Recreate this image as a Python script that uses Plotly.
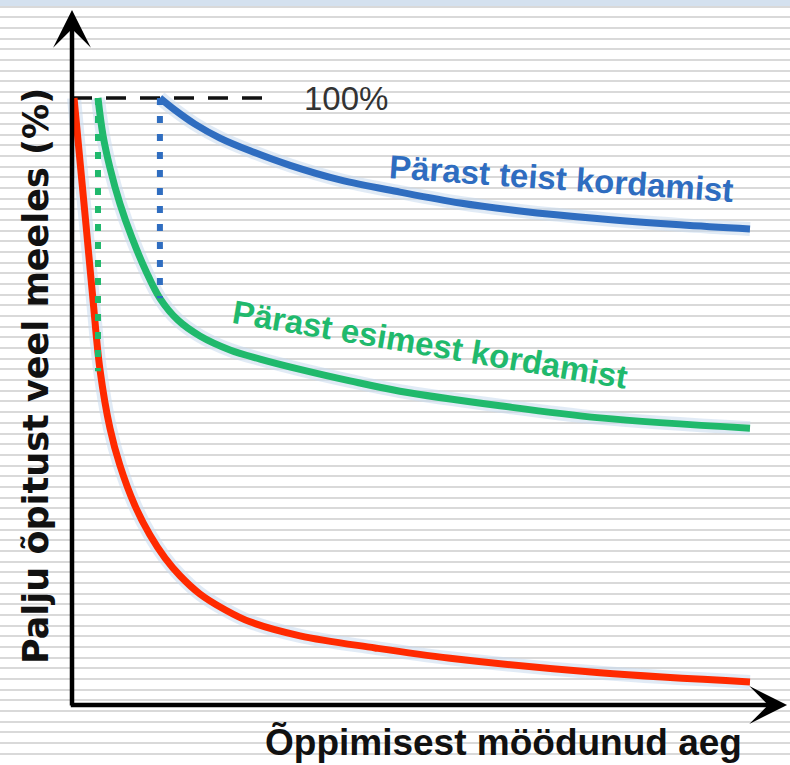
import plotly.graph_objects as go

# ---- data (time units, retention %) ----
red_t = [0.09, 0.62, 0.93, 1.24, 1.68, 2.12, 2.79, 3.45, 4.12, 4.78, 5.66, 6.77, 7.88, 10.09, 13.41, 16.73, 23.36, 30.0]
red_p = [100.0, 79.1, 66.7, 55.2, 45.6, 39.5, 32.8, 28.0, 24.2, 21.3, 18.3, 15.7, 13.7, 11.4, 9.4, 7.7, 5.3, 3.8]

green_t = [1.15, 1.37, 1.68, 2.12, 2.65, 3.27, 3.89, 4.69, 5.66, 6.99, 8.32, 10.09, 12.30, 14.51, 18.94, 23.36, 30.0]
green_p = [100.0, 93.9, 88.5, 82.6, 77.0, 71.5, 67.0, 63.4, 60.8, 58.5, 57.0, 55.3, 53.4, 51.7, 49.3, 47.3, 45.6]

blue_t = [3.89, 4.56, 5.44, 6.55, 7.88, 9.65, 11.86, 14.51, 17.17, 19.82, 23.36, 26.90, 30.0]
blue_p = [100.0, 98.0, 95.7, 93.4, 91.3, 88.9, 86.5, 84.5, 82.7, 81.4, 80.1, 79.1, 78.4]

green_drop_t = [1.15, 1.15]
green_drop_p = [100.0, 55.0]
blue_drop_t = [3.89, 3.89]
blue_drop_p = [100.0, 67.0]

ref_t = [0.0, 8.98]
ref_p = [100.0, 100.0]

label_100 = "100%"
label_blue = "Pärast teist kordamist"
label_green = "Pärast esimest kordamist"
x_title = "Õppimisest möödunud aeg"
y_title = "Palju õpitust veel meeles (%)"

RED = "#ff2a00"
GREEN = "#20b96c"
BLUE = "#2f6dc0"
HALO = "rgba(200,218,238,0.55)"
FONT = "Liberation Sans, Arial, sans-serif"

fig = go.Figure()

# stripes via hidden overlay axis
fig.add_trace(go.Scatter(x=[None], y=[None], yaxis="y2", showlegend=False, hoverinfo="skip"))

# soft halos under curves
for tt, pp in [(red_t, red_p), (green_t, green_p), (blue_t, blue_p)]:
    fig.add_trace(go.Scatter(x=tt, y=pp, mode="lines",
                             line=dict(color=HALO, width=14, shape="spline", smoothing=1.0),
                             showlegend=False, hoverinfo="skip"))

fig.add_trace(go.Scatter(x=ref_t, y=ref_p, mode="lines",
                         line=dict(color="#111111", width=3.5, dash="20px,14px"), showlegend=False))
fig.add_trace(go.Scatter(x=red_t, y=red_p, mode="lines",
                         line=dict(color=RED, width=7, shape="spline", smoothing=1.0), showlegend=False))
fig.add_trace(go.Scatter(x=green_t, y=green_p, mode="lines",
                         line=dict(color=GREEN, width=7, shape="spline", smoothing=1.0), showlegend=False))
fig.add_trace(go.Scatter(x=green_drop_t, y=green_drop_p, mode="lines",
                         line=dict(color=GREEN, width=6, dash="7px,11px"), showlegend=False))
fig.add_trace(go.Scatter(x=blue_t, y=blue_p, mode="lines",
                         line=dict(color=BLUE, width=7, shape="spline", smoothing=1.0), showlegend=False))
fig.add_trace(go.Scatter(x=blue_drop_t, y=blue_drop_p, mode="lines",
                         line=dict(color=BLUE, width=6, dash="7px,11px"), showlegend=False))

W, H = 790, 765
annotations = [
    # axes arrows
    dict(x=0, y=114.5, ax=0, ay=-0.35, xref="x", yref="y", axref="x", ayref="y",
         showarrow=True, arrowhead=3, arrowsize=1.4, arrowwidth=4.5, arrowcolor="#000000", text=""),
    dict(x=31.64, y=0, ax=-0.12, ay=0, xref="x", yref="y", axref="x", ayref="y",
         showarrow=True, arrowhead=3, arrowsize=1.4, arrowwidth=4.5, arrowcolor="#000000", text=""),
    dict(x=346 / W, y=1 - 98.5 / H, xref="paper", yref="paper", text=label_100, showarrow=False,
         font=dict(family=FONT, size=33, color="#333333"), xanchor="center", yanchor="middle"),
    dict(x=561 / W, y=1 - 178 / H, xref="paper", yref="paper", text=label_blue, showarrow=False,
         textangle=4, font=dict(family=FONT, size=33, color=BLUE, weight=700),
         xanchor="center", yanchor="middle"),
    dict(x=430 / W, y=1 - 345 / H, xref="paper", yref="paper", text=label_green, showarrow=False,
         textangle=9.5, font=dict(family=FONT, size=33, color=GREEN, weight=700),
         xanchor="center", yanchor="middle"),
    dict(x=504 / W, y=1 - 742 / H, xref="paper", yref="paper", text=x_title, showarrow=False,
         font=dict(family=FONT, size=37, color="#111111", weight=700),
         xanchor="center", yanchor="middle"),
    dict(x=36 / W, y=1 - 376 / H, xref="paper", yref="paper", text=y_title, showarrow=False,
         textangle=-90, font=dict(family="DejaVu Sans, sans-serif", size=35, color="#111111", weight=700),
         xanchor="center", yanchor="middle"),
]

fig.update_layout(
    width=W, height=H,
    margin=dict(l=0, r=0, t=0, b=0),
    paper_bgcolor="white", plot_bgcolor="rgba(0,0,0,0)",
    xaxis=dict(range=[-72 / 22.6, (W - 72) / 22.6], visible=False, fixedrange=True),
    yaxis=dict(range=[(705 - H) / 6.07, 705 / 6.07], visible=False, fixedrange=True),
    yaxis2=dict(overlaying="y", range=[0, H], showgrid=True, gridcolor="#d9d9d9", gridwidth=2,
                tick0=H - 6.7, dtick=10.67, showticklabels=False, ticks="", zeroline=False,
                showline=False),
    shapes=[dict(type="rect", xref="paper", yref="paper", x0=0, x1=1, y0=1 - 6 / H, y1=1,
                 fillcolor="#d4e1ef", line=dict(width=0), layer="above")],
    annotations=annotations,
    showlegend=False,
)

fig.write_html("out.html", config={"displayModeBar": False},
               post_script="document.body.style.margin='0';document.body.style.overflow='hidden';")
